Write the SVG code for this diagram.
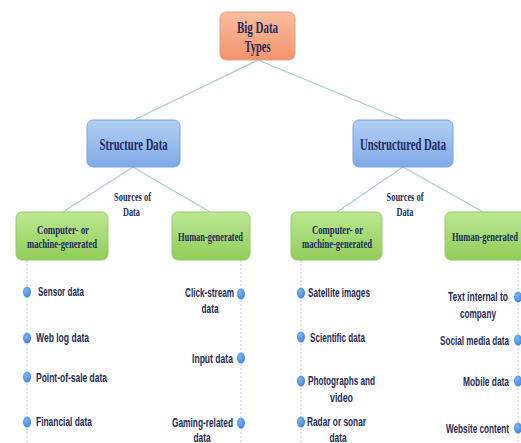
<svg xmlns="http://www.w3.org/2000/svg" width="521" height="443" viewBox="0 0 521 443">
<defs>
<linearGradient id="gOr" x1="0" y1="0" x2="0" y2="1"><stop offset="0" stop-color="#f9bd9f"/><stop offset="1" stop-color="#f1946c"/></linearGradient>
<linearGradient id="gBl" x1="0" y1="0" x2="0" y2="1"><stop offset="0" stop-color="#b3d0f4"/><stop offset="1" stop-color="#7eaae6"/></linearGradient>
<linearGradient id="gGr" x1="0" y1="0" x2="0" y2="1"><stop offset="0" stop-color="#bde792"/><stop offset="1" stop-color="#8fcd58"/></linearGradient>
<radialGradient id="gDot" cx="0.4" cy="0.35" r="0.7"><stop offset="0" stop-color="#7db3f5"/><stop offset="1" stop-color="#3f84de"/></radialGradient>
</defs>
<style>
.serif{font-family:"Liberation Serif","Times New Roman",serif;font-weight:bold;fill:#1e2a5c}
.lab{font-family:"Liberation Sans",Arial,sans-serif;font-weight:bold;font-size:13px;fill:#1e2a5c}
.conn{stroke:#a7cbe0;stroke-width:1.2;fill:none}
.dash{stroke:#b8cbe0;stroke-width:1;stroke-dasharray:2,2;fill:none}
.dot{fill:url(#gDot)}
</style>
<rect width="521" height="443" fill="#ffffff"/>

<g id="connectors">
<line class="conn" x1="258" y1="60" x2="134" y2="120"/>
<line class="conn" x1="258" y1="60" x2="403" y2="120"/>
<line class="conn" x1="133" y1="167" x2="63" y2="212"/>
<line class="conn" x1="133" y1="167" x2="210" y2="212"/>
<line class="conn" x1="403" y1="167" x2="337" y2="212"/>
<line class="conn" x1="403" y1="167" x2="483" y2="212"/>
<line class="dash" x1="27" y1="260" x2="27" y2="443"/>
<line class="dash" x1="241" y1="260" x2="241" y2="443"/>
<line class="dash" x1="301" y1="260" x2="301" y2="443"/>
<line class="dash" x1="518" y1="260" x2="518" y2="443"/>
</g>

<g id="big-data-types">
<rect x="220" y="12" width="75" height="48" rx="6" fill="url(#gOr)" stroke="#e9a283" stroke-width="1"/>
<text class="serif" x="257.5" y="32.5" font-size="16" text-anchor="middle" textLength="41" lengthAdjust="spacingAndGlyphs">Big Data</text>
<text class="serif" x="257.5" y="51.5" font-size="16" text-anchor="middle" textLength="26" lengthAdjust="spacingAndGlyphs">Types</text>
</g>

<g id="structure-data">
<rect x="87" y="120" width="93" height="47" rx="6" fill="url(#gBl)" stroke="#79a5dc" stroke-width="1"/>
<text class="serif" x="133.5" y="149.5" font-size="16" text-anchor="middle" textLength="68" lengthAdjust="spacingAndGlyphs">Structure Data</text>
</g>

<g id="unstructured-data">
<rect x="353" y="120" width="100" height="47" rx="6" fill="url(#gBl)" stroke="#79a5dc" stroke-width="1"/>
<text class="serif" x="403" y="149.5" font-size="16" text-anchor="middle" textLength="86" lengthAdjust="spacingAndGlyphs">Unstructured Data</text>
</g>

<g id="sources-label-1">
<text class="serif" x="132.5" y="201" font-size="12" text-anchor="middle" textLength="37" lengthAdjust="spacingAndGlyphs">Sources of</text>
<text class="serif" x="131.5" y="216" font-size="12" text-anchor="middle" textLength="17" lengthAdjust="spacingAndGlyphs">Data</text>
</g>
<g id="sources-label-2">
<text class="serif" x="405" y="201" font-size="12" text-anchor="middle" textLength="37" lengthAdjust="spacingAndGlyphs">Sources of</text>
<text class="serif" x="405" y="216" font-size="12" text-anchor="middle" textLength="17" lengthAdjust="spacingAndGlyphs">Data</text>
</g>

<g id="computer-generated-1">
<rect x="16" y="212" width="92" height="48" rx="6" fill="url(#gGr)" stroke="#94cc66" stroke-width="1"/>
<text class="serif" x="63" y="234" font-size="13" text-anchor="middle" textLength="52" lengthAdjust="spacingAndGlyphs">Computer- or</text>
<text class="serif" x="62" y="248" font-size="13" text-anchor="middle" textLength="70" lengthAdjust="spacingAndGlyphs">machine-generated</text>
</g>

<g id="human-generated-1">
<rect x="172" y="212" width="78" height="48" rx="6" fill="url(#gGr)" stroke="#94cc66" stroke-width="1"/>
<text class="serif" x="210.5" y="241" font-size="13" text-anchor="middle" textLength="65" lengthAdjust="spacingAndGlyphs">Human-generated</text>
</g>

<g id="computer-generated-2">
<rect x="291" y="212" width="91" height="48" rx="6" fill="url(#gGr)" stroke="#94cc66" stroke-width="1"/>
<text class="serif" x="337.5" y="234" font-size="13" text-anchor="middle" textLength="51" lengthAdjust="spacingAndGlyphs">Computer- or</text>
<text class="serif" x="337" y="248" font-size="13" text-anchor="middle" textLength="70" lengthAdjust="spacingAndGlyphs">machine-generated</text>
</g>

<g id="human-generated-2">
<rect x="445" y="212" width="82" height="48" rx="6" fill="url(#gGr)" stroke="#94cc66" stroke-width="1"/>
<text class="serif" x="485" y="241" font-size="13" text-anchor="middle" textLength="66" lengthAdjust="spacingAndGlyphs">Human-generated</text>
</g>

<g id="sensor-data"><ellipse class="dot" cx="27" cy="292" rx="4" ry="5.5"/><text class="lab" x="38" y="296" textLength="46" lengthAdjust="spacingAndGlyphs">Sensor data</text></g>
<g id="web-log-data"><ellipse class="dot" cx="27" cy="338" rx="4" ry="5.5"/><text class="lab" x="36" y="341.5" textLength="53" lengthAdjust="spacingAndGlyphs">Web log data</text></g>
<g id="point-of-sale-data"><ellipse class="dot" cx="27" cy="377" rx="4" ry="5.5"/><text class="lab" x="36" y="382" textLength="71" lengthAdjust="spacingAndGlyphs">Point-of-sale data</text></g>
<g id="financial-data"><ellipse class="dot" cx="27" cy="422" rx="4" ry="5.5"/><text class="lab" x="36" y="426" textLength="56" lengthAdjust="spacingAndGlyphs">Financial data</text></g>

<g id="click-stream-data"><ellipse class="dot" cx="241" cy="294" rx="4" ry="5.5"/><text class="lab" x="209.5" y="296.5" text-anchor="middle" textLength="49" lengthAdjust="spacingAndGlyphs">Click-stream</text><text class="lab" x="210" y="312.5" text-anchor="middle" textLength="17" lengthAdjust="spacingAndGlyphs">data</text></g>
<g id="input-data"><ellipse class="dot" cx="241" cy="358" rx="4" ry="5.5"/><text class="lab" x="233" y="363" text-anchor="end" textLength="41" lengthAdjust="spacingAndGlyphs">Input data</text></g>
<g id="gaming-related-data"><ellipse class="dot" cx="241" cy="423" rx="4" ry="5.5"/><text class="lab" x="202.5" y="427" text-anchor="middle" textLength="61" lengthAdjust="spacingAndGlyphs">Gaming-related</text><text class="lab" x="202" y="442" text-anchor="middle" textLength="17" lengthAdjust="spacingAndGlyphs">data</text></g>

<g id="satellite-images"><ellipse class="dot" cx="301" cy="293" rx="4" ry="5.5"/><text class="lab" x="308" y="297" textLength="62" lengthAdjust="spacingAndGlyphs">Satellite images</text></g>
<g id="scientific-data"><ellipse class="dot" cx="301" cy="337" rx="4" ry="5.5"/><text class="lab" x="310" y="342" textLength="55" lengthAdjust="spacingAndGlyphs">Scientific data</text></g>
<g id="photographs-and-video"><ellipse class="dot" cx="301" cy="381" rx="4" ry="5.5"/><text class="lab" x="341.5" y="385" text-anchor="middle" textLength="67" lengthAdjust="spacingAndGlyphs">Photographs and</text><text class="lab" x="341.5" y="402" text-anchor="middle" textLength="23" lengthAdjust="spacingAndGlyphs">video</text></g>
<g id="radar-or-sonar-data"><ellipse class="dot" cx="301" cy="422" rx="4" ry="5.5"/><text class="lab" x="336.5" y="426" text-anchor="middle" textLength="59" lengthAdjust="spacingAndGlyphs">Radar or sonar</text><text class="lab" x="338" y="442" text-anchor="middle" textLength="17" lengthAdjust="spacingAndGlyphs">data</text></g>

<g id="text-internal-to-company"><ellipse class="dot" cx="518" cy="297" rx="4" ry="5.5"/><text class="lab" x="478" y="301" text-anchor="middle" textLength="60" lengthAdjust="spacingAndGlyphs">Text internal to</text><text class="lab" x="478" y="318" text-anchor="middle" textLength="36" lengthAdjust="spacingAndGlyphs">company</text></g>
<g id="social-media-data"><ellipse class="dot" cx="518" cy="340" rx="4" ry="5.5"/><text class="lab" x="509" y="344.5" text-anchor="end" textLength="69" lengthAdjust="spacingAndGlyphs">Social media data</text></g>
<g id="mobile-data"><ellipse class="dot" cx="518" cy="381" rx="4" ry="5.5"/><text class="lab" x="509" y="385.5" text-anchor="end" textLength="46" lengthAdjust="spacingAndGlyphs">Mobile data</text></g>
<g id="website-content"><ellipse class="dot" cx="518" cy="428" rx="4" ry="5.5"/><text class="lab" x="509" y="432.5" text-anchor="end" textLength="63" lengthAdjust="spacingAndGlyphs">Website content</text></g>
</svg>
